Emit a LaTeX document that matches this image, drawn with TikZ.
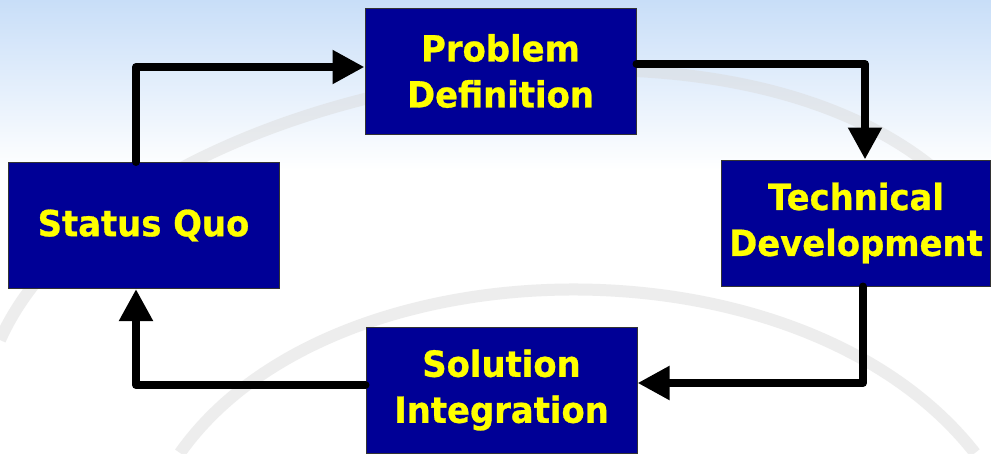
\documentclass[tikz,border=0pt]{standalone}
\usepackage{fontspec}
\newfontfamily\boxfont{DejaVu Sans Bold}[FakeStretch=0.94,FakeBold=0.8]
\usetikzlibrary{arrows.meta,calc}
\definecolor{navy}{RGB}{0,0,150}
\definecolor{ylw}{RGB}{255,255,0}
\definecolor{bgblue}{RGB}{200,222,248}
\tikzset{
  stagebox/.style={rectangle, draw=black!80, line width=1pt, fill=navy, text=ylw,
    minimum width=271pt, minimum height=126pt, inner sep=0pt, align=center,
    font=\boxfont\fontsize{36}{46}\selectfont},
  flow/.style={line width=8pt, line cap=round, line join=round,
    -{Triangle[length=32pt,width=32pt]}},
  wm/.style={line width=12pt, draw=gray!30, opacity=0.45}
}
\begin{document}
\begin{tikzpicture}[x=1pt,y=-1pt]
\useasboundingbox (0,0) rectangle (991,453);
% background
\fill[white] (0,0) rectangle (991,453);
\shade[top color=bgblue, bottom color=white] (0,0) rectangle (991,170);
% faint watermark arcs
\draw[wm] (0,340) .. controls (120,70) and (800,-50) .. (991,230);
\draw[wm] (180,453) .. controls (330,240) and (800,230) .. (975,453);
% boxes
\node[stagebox] (PD) at (500.5,71) {Problem\\Definition};
\node[stagebox] (SQ) at (143.5,225.5) {Status Quo};
\node[stagebox, minimum width=269pt] (TD) at (856,223) {Technical\\Development};
\node[stagebox] (SI) at (501.5,390) {Solution\\Integration};
% corners
\coordinate (c1) at (136,67);
\coordinate (c2) at (865,64);
\coordinate (c3) at (863,383);
\coordinate (c4) at (136,385);
% connectors
\draw[flow] (SQ.north -| c1) -- (c1) -- (c1 -| PD.west);
\draw[flow] (c2 -| PD.east) -- (c2) -- (c2 |- TD.north);
\draw[flow] (c3 |- TD.south) -- (c3) -- (c3 -| SI.east);
\draw[flow] (c4 -| SI.west) -- (c4) -- (c4 |- SQ.south);
\end{tikzpicture}
\end{document}
